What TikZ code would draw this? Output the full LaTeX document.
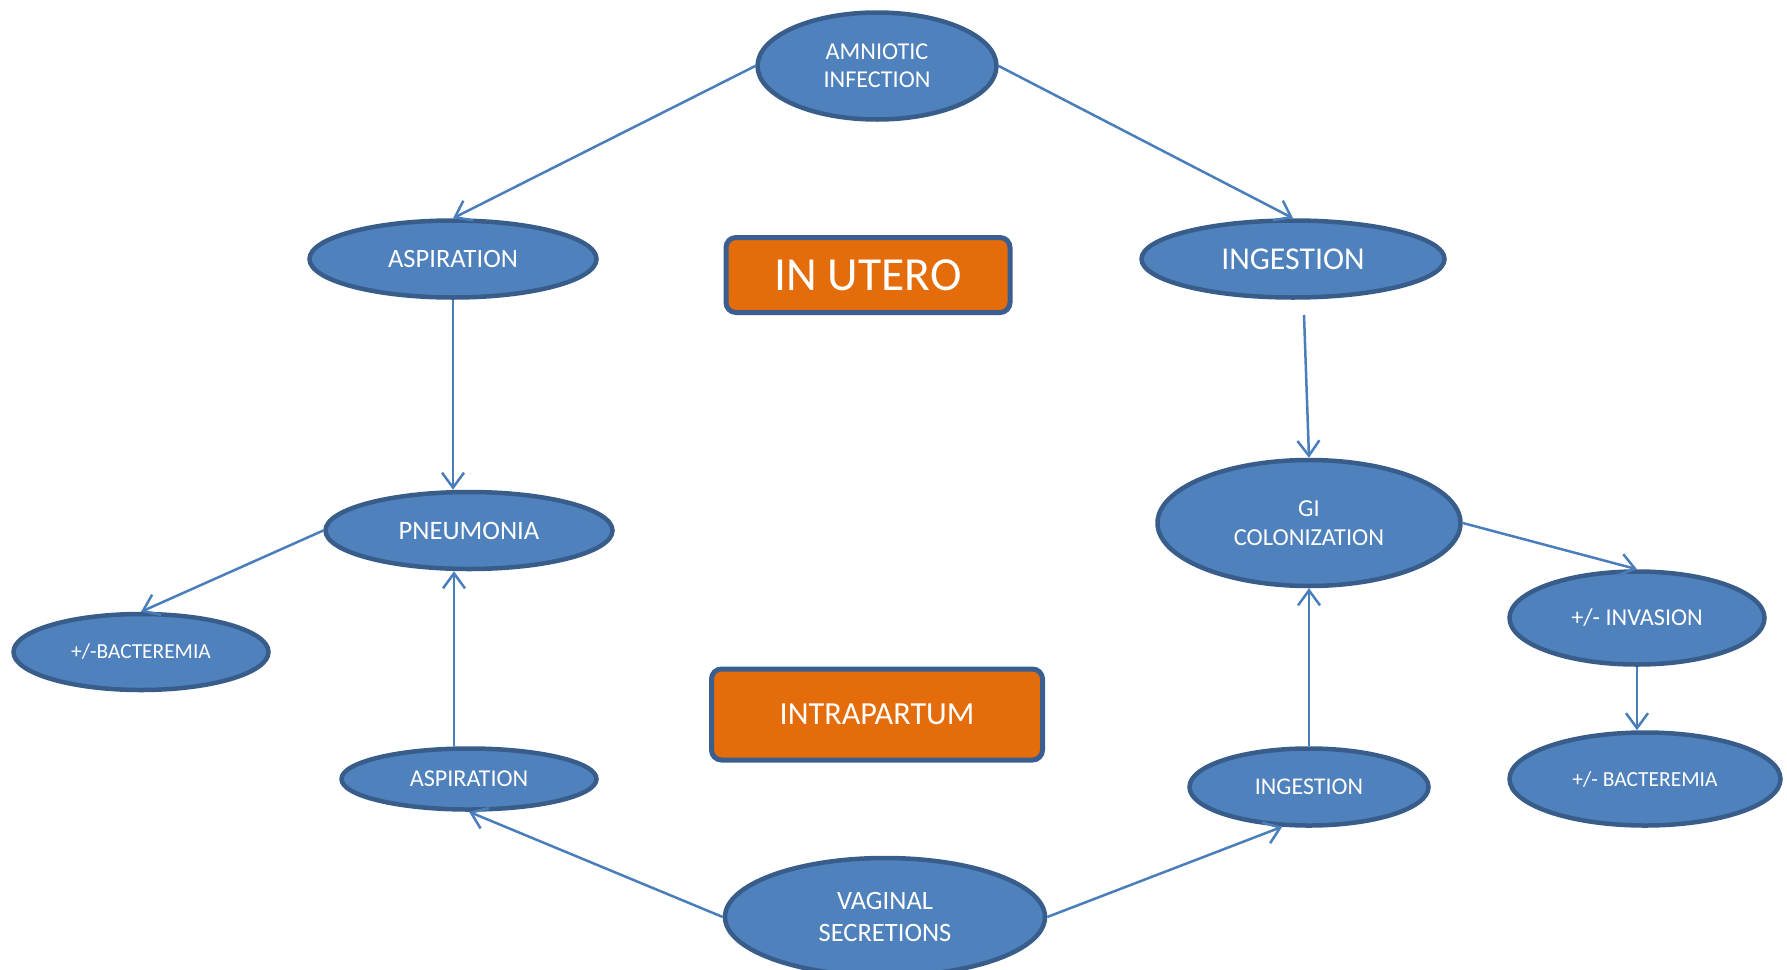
\documentclass[tikz,border=0pt]{standalone}
\usepackage{fontspec}
\setmainfont{Carlito}
\usetikzlibrary{shapes.geometric,arrows.meta}
\definecolor{efill}{HTML}{4F81BD}
\definecolor{eline}{HTML}{385D8A}
\definecolor{aline}{HTML}{4A7EBB}
\definecolor{ofill}{HTML}{E46C0A}
\definecolor{oline}{HTML}{3B5E91}
\tikzset{
  oval/.style={ellipse, draw=eline, fill=efill, line width=4.5pt, inner sep=0pt,
    text=white, align=center},
  tag/.style={rectangle, rounded corners=10pt, draw=oline, fill=ofill, line width=5pt,
    inner sep=0pt, text=white, align=center},
  conn/.style={draw=aline, line width=2.5pt, -{Straight Barb[length=15pt,width=22pt,line width=2.5pt]}},
}
\begin{document}
\begin{tikzpicture}[x=1pt,y=-1pt]
\useasboundingbox (0,0) rectangle (1787,969);
\node[oval, minimum width=239pt, minimum height=107pt, font=\fontsize{24.2}{28}\selectfont] (amn) at (877,66) {AMNIOTIC\\INFECTION};
\node[oval, minimum width=287pt, minimum height=77pt, font=\fontsize{26.5}{30}\selectfont] (asp1) at (453,259) {ASPIRATION};
\node[oval, minimum width=303pt, minimum height=77pt, font=\fontsize{31.8}{36}\selectfont] (ing1) at (1293,259) {INGESTION};
\node[tag, minimum width=284pt, minimum height=75pt, font=\fontsize{47.5}{52}\selectfont] (utero) at (868,275) {IN UTERO};
\node[oval, minimum width=287pt, minimum height=77pt, font=\fontsize{26.6}{30}\selectfont] (pneu) at (469,530.5) {PNEUMONIA};
\node[oval, minimum width=303pt, minimum height=126pt, font=\fontsize{24.4}{29}\selectfont] (gi) at (1309,523) {GI\\COLONIZATION};
\node[oval, minimum width=255pt, minimum height=76pt, font=\fontsize{21.4}{25}\selectfont] (bacl) at (141,652) {+/-BACTEREMIA};
\node[oval, minimum width=255pt, minimum height=93pt, font=\fontsize{24.2}{28}\selectfont] (inv) at (1637,618) {+/- INVASION};
\node[oval, minimum width=271pt, minimum height=93pt, font=\fontsize{21.5}{25}\selectfont] (bacr) at (1645,779) {+/- BACTEREMIA};
\node[tag, minimum width=331pt, minimum height=91pt, font=\fontsize{32.2}{36}\selectfont] (intra) at (877,714.5) {INTRAPARTUM};
\node[oval, minimum width=255pt, minimum height=61pt, font=\fontsize{24.2}{28}\selectfont] (asp2) at (469,779) {ASPIRATION};
\node[oval, minimum width=239pt, minimum height=77pt, font=\fontsize{24}{28}\selectfont] (ing2) at (1309,787) {INGESTION};
\node[oval, minimum width=320pt, minimum height=118pt, font=\fontsize{26.5}{32}\selectfont] (vag) at (885,917) {VAGINAL\\SECRETIONS};
\coordinate (c1) at (1304,315);
\draw[conn] (amn.west) -- (asp1.north);
\draw[conn] (amn.east) -- (ing1.north);
\draw[conn] (asp1.south) -- (asp1.south |- pneu.north);
\draw[conn] (c1) -- (gi.north);
\draw[conn] (pneu.west) -- (bacl.north);
\draw[conn] ([xshift=-15pt]asp2.north) -- ([xshift=-15pt]pneu.south);
\draw[conn] (vag.west) -- (asp2.south);
\draw[conn] (vag.east) -- (ing2.236);
\draw[conn] (ing2.north) -- (gi.south);
\draw[conn] (gi.east) -- (inv.north);
\draw[conn] (inv.south) -- (inv.south |- bacr.north);
\end{tikzpicture}
\end{document}
